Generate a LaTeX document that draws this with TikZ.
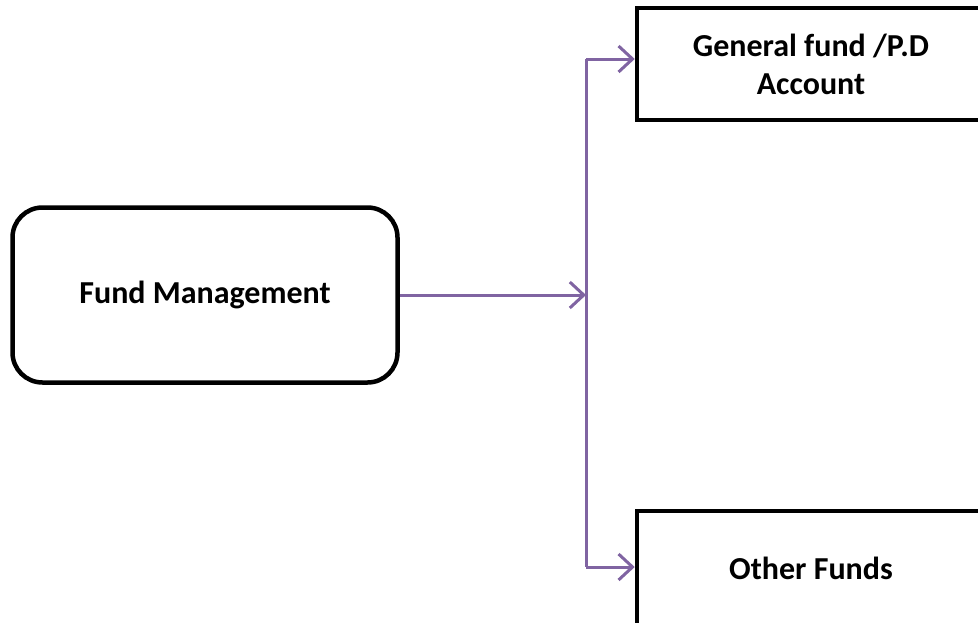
\documentclass[tikz,border=0pt]{standalone}
\usepackage{fontspec}
\setmainfont{Carlito}
\usetikzlibrary{arrows.meta}
\definecolor{conncol}{HTML}{8064A2}
\tikzset{
  box/.style={draw=black, line width=4.5pt, fill=white, align=center, inner sep=0pt,
    font=\bfseries\fontsize{32}{38}\selectfont},
  conn/.style={draw=conncol, line width=3pt, -{Straight Barb[length=14pt,width=26pt,line width=3pt]}},
  plain/.style={draw=conncol, line width=3pt}
}
\begin{document}
\begin{tikzpicture}[x=1pt,y=-1pt]
\clip (0,0) rectangle (978,622);
\fill[white] (0,0) rectangle (978,622);
\node[box, rounded corners=30pt, minimum width=385pt, minimum height=175pt] (fm) at (205,295) {Fund Management};
\node[box, minimum width=348pt, minimum height=112pt] (gen) at (811,64) {General fund /P.D\\Account};
\node[box, minimum width=348pt, minimum height=114pt] (oth) at (811,568) {Other Funds};
\coordinate (j) at (586,295);
\coordinate (top) at (586,59);
\coordinate (bot) at (586,567);
\draw[conn] (fm.east) -- (j);
\draw[plain] (top) -- (bot);
\draw[conn] (top) -- (gen.west |- top);
\draw[conn] (bot) -- (oth.west |- bot);
\end{tikzpicture}
\end{document}
